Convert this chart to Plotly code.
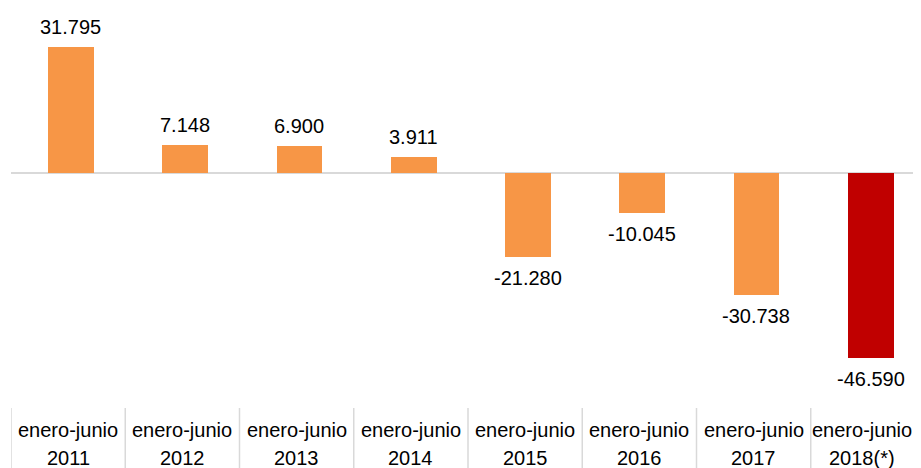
import plotly.graph_objects as go

periods = ["enero-junio"] * 8
years = ["2011", "2012", "2013", "2014", "2015", "2016", "2017", "2018(*)"]
values = [31795, 7148, 6900, 3911, -21280, -10045, -30738, -46590]
labels = ["31.795", "7.148", "6.900", "3.911", "-21.280", "-10.045", "-30.738", "-46.590"]

ORANGE = "#F79646"
RED = "#C00000"
GRID = "#D9D9D9"
FONT = "Liberation Sans, Arial, sans-serif"

x = list(range(len(years)))
colors = [ORANGE] * (len(years) - 1) + [RED]
SHIFT = 0.025  # bars sit slightly right of the category centre

fig = go.Figure()
fig.add_trace(go.Bar(
    x=x, y=values,
    marker=dict(color=colors, line=dict(width=0)),
    width=0.4, offset=-0.2 + SHIFT,
    showlegend=False,
    hoverinfo="skip",
))

# value labels above / below bars
for i, (v, lab) in enumerate(zip(values, labels)):
    fig.add_annotation(
        x=i + SHIFT, y=v, text=lab, showarrow=False,
        xref="x", yref="y",
        yanchor="bottom" if v >= 0 else "top",
        yshift=7 if v >= 0 else -8,
        font=dict(family=FONT, size=20, color="#000000"),
    )

# category table below the chart (last column nudged left so it isn't cut)
for i, (p, yr) in enumerate(zip(periods, years)):
    xs = -6 if i == len(years) - 1 else 0
    fig.add_annotation(x=i, y=0, xref="x", yref="paper", text=p, showarrow=False,
                       yanchor="middle", yshift=-22, xshift=xs,
                       font=dict(family=FONT, size=20, color="#000000"))
    fig.add_annotation(x=i, y=0, xref="x", yref="paper", text=yr, showarrow=False,
                       yanchor="middle", yshift=-50, xshift=xs,
                       font=dict(family=FONT, size=20, color="#000000"))

for i in range(len(years)):
    fig.add_shape(type="line", xref="x", yref="paper",
                  x0=i - 0.5, x1=i - 0.5, y0=0, y1=-0.15,
                  line=dict(color=GRID, width=1.5))

# page body adds 8px offset, so the figure is shrunk by that amount
fig.update_layout(
    width=905, height=460,
    margin=dict(l=3, r=0, t=0, b=60),
    plot_bgcolor="white", paper_bgcolor="white",
    bargap=0,
    xaxis=dict(range=[-0.5, 7.395], showticklabels=False, showgrid=False,
               zeroline=False, showline=False, ticks=""),
    yaxis=dict(range=[-59300, 41630], showticklabels=False,
               showgrid=False, zeroline=True, zerolinecolor=GRID,
               zerolinewidth=1.5, showline=False, ticks=""),
)

fig.write_html("out.html")
